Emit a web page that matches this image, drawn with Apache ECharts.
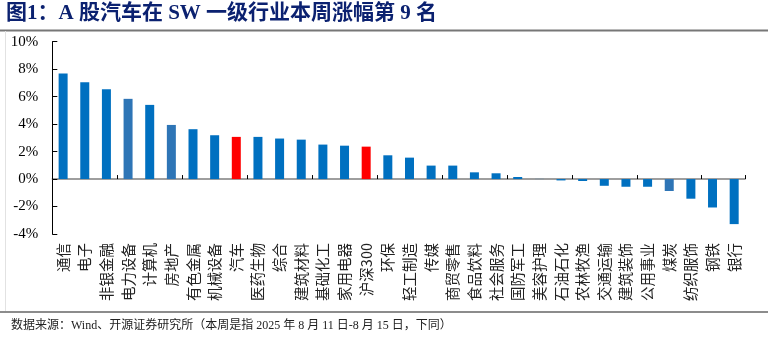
<!DOCTYPE html>
<html>
<head>
<meta charset="utf-8">
<script src="https://cdn.jsdelivr.net/npm/echarts@6/dist/echarts.min.js"></script>
<style>
  html, body { margin: 0; padding: 0; background: #fff; }
  #chart { width: 774px; height: 343px; }
</style>
</head>
<body>
<div id="chart"></div>
<script>
// 申万一级行业本周涨跌幅（%）
const industries = ['通信','电子','非银金融','电力设备','计算机','房地产','有色金属','机械设备','汽车','医药生物','综合','建筑材料','基础化工','家用电器','沪深300','环保','轻工制造','传媒','商贸零售','食品饮料','社会服务','国防军工','美容护理','石油石化','农林牧渔','交通运输','建筑装饰','公用事业','煤炭','纺织服饰','钢铁','银行'];
const weeklyChange = [7.69, 7.04, 6.54, 5.84, 5.40, 3.94, 3.63, 3.19, 3.07, 3.07, 2.95, 2.87, 2.51, 2.43, 2.36, 1.73, 1.56, 0.98, 0.98, 0.49, 0.42, 0.15, 0.01, -0.10, -0.14, -0.49, -0.56, -0.56, -0.87, -1.43, -2.07, -3.28];
// 高亮：汽车与沪深300；部分行业用深一档的蓝
const highlighted = ['汽车', '沪深300'];
const steelBlue = ['电力设备', '房地产', '煤炭'];
const yTicks = { min: -4, max: 10, step: 2 };

const titleText = '图1：A 股汽车在 SW 一级行业本周涨幅第 9 名';
const sourceText = '数据来源：Wind、开源证券研究所（本周是指 2025 年 8 月 11 日-8 月 15 日，下同）';

function barColor(name) {
  if (highlighted.includes(name)) return '#FF0000';
  if (steelBlue.includes(name)) return '#2E75B6';
  return '#0070C0';
}

const chart = echarts.init(document.getElementById('chart'), null, { renderer: 'canvas' });

const seriesData = industries.map((name, i) => ({
  value: weeklyChange[i],
  itemStyle: { color: barColor(name) }
}));

chart.setOption({
  animation: false,
  backgroundColor: '#fff',
  graphic: [
    { type: 'text', left: 6, top: 3, style: { text: titleText, fill: '#0b2170', font: 'bold 21px "Liberation Serif", "Noto Sans CJK SC", serif' } },
    { type: 'line', shape: { x1: 0, y1: 30.5, x2: 768, y2: 30.5 }, style: { stroke: '#777', lineWidth: 2 } },
    { type: 'line', shape: { x1: 5.5, y1: 31, x2: 5.5, y2: 311 }, style: { stroke: '#e2e2e2', lineWidth: 1 } },
    { type: 'line', shape: { x1: 0, y1: 312, x2: 768, y2: 312 }, style: { stroke: '#666', lineWidth: 1.5 } },
    { type: 'text', left: 11, top: 320, style: { text: sourceText, fill: '#222', font: '12px "Liberation Serif", "Noto Sans CJK SC", serif' } }
  ],
  grid: { left: 52.3, right: 29, top: 41.7, bottom: 109, containLabel: false },
  xAxis: [
    {
      // 零轴：灰色轴线与向上的刻度
      type: 'category',
      data: industries,
      axisLine: { onZero: true, lineStyle: { color: '#7f7f7f', width: 1.5 } },
      axisTick: { show: true, inside: true, length: 4, lineStyle: { color: '#000', width: 1 } },
      axisLabel: { show: false },
      splitLine: { show: false }
    },
    {
      // 底部的行业名称
      type: 'category',
      data: industries,
      position: 'bottom',
      axisLine: { show: false, onZero: false },
      axisTick: { show: false },
      axisLabel: {
        rotate: 90,
        interval: 0,
        margin: 9,
        fontSize: 14.5,
        color: '#222',
        fontFamily: '"Noto Sans CJK SC", sans-serif'
      },
      splitLine: { show: false }
    }
  ],
  yAxis: {
    type: 'value',
    min: yTicks.min,
    max: yTicks.max,
    interval: yTicks.step,
    axisLine: { show: true, lineStyle: { color: '#000', width: 1 } },
    axisTick: { show: true, inside: true, length: 5, lineStyle: { color: '#000' } },
    axisLabel: {
      formatter: v => v + '%',
      margin: 14,
      fontSize: 15,
      color: '#000',
      fontFamily: '"Liberation Serif", serif'
    },
    splitLine: { show: false }
  },
  series: [
    {
      type: 'bar',
      xAxisIndex: 0,
      barWidth: 9,
      data: seriesData
    }
  ]
});
</script>
</body>
</html>
